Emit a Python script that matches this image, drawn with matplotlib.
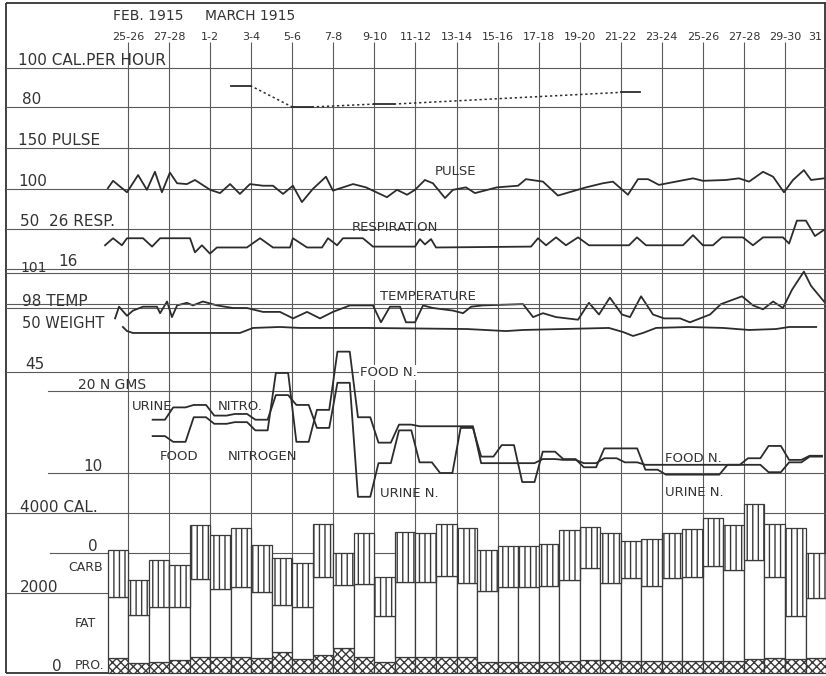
import matplotlib
matplotlib.use('Agg')
import matplotlib.pyplot as plt

plt.rcParams['font.family'] = ['DejaVu Sans']
plt.rcParams['hatch.linewidth'] = 1.0
plt.rcParams['hatch.color'] = '#444444'

# ---------------- data ----------------
date_labels = ['25-26', '27-28', '1-2', '3-4', '5-6', '7-8', '9-10', '11-12', '13-14',
               '15-16', '17-18', '19-20', '21-22', '23-24', '25-26', '27-28', '29-30', '31']
date_label_day = [1, 3, 5, 7, 9, 11, 13, 15, 17, 19, 21, 23, 25, 27, 29, 31, 33, 34.45]
grid_days = [1, 3, 5, 7, 9, 11, 13, 15, 17, 19, 21, 23, 25, 27, 29, 31, 33]

# calories per hour (measurement days, values)
calhr_day = [6, 9, 13, 25]
calhr_val = [91, 80, 81.5, 87.5]

pulse_day = [0.02, 0.27, 0.95, 1.49, 1.92, 2.31, 2.65, 3.04, 3.39, 3.87, 4.26, 5.0, 5.48, 5.97,
             6.45, 6.94, 7.57, 8.06, 8.55, 9.03, 9.47, 10.0, 10.64, 10.98, 11.96, 12.59, 13.61,
             14.1, 14.59, 14.98, 15.46, 15.85, 16.44, 16.83, 17.46, 17.9, 18.97, 20.0, 20.38,
             21.21, 21.94, 23.31, 24.13, 24.62, 25.35, 25.84, 26.33, 26.86, 27.69, 28.52, 29.0,
             30.12, 30.76, 31.25, 31.93, 32.42, 32.95, 33.39, 33.92, 34.27, 34.9]
pulse_val = [101, 110, 96, 117, 99, 121, 96, 120, 107, 106, 111, 99, 95, 106, 94, 106, 104, 104,
             94, 104, 84, 100, 115, 98, 106, 102, 90, 99, 93, 99, 111, 107, 89, 99, 102, 95, 102,
             104, 112, 109, 92, 102, 107, 109, 93, 112, 112, 105, 109, 113, 110, 111, 113, 109,
             121, 115, 96, 111, 123, 111, 113]

resp_day = [-0.12, 0.27, 0.7, 0.95, 1.73, 2.17, 2.56, 4.02, 4.26, 4.6, 4.99, 5.33, 6.79, 7.43,
            8.06, 8.89, 9.03, 9.72, 10.45, 10.74, 11.18, 11.47, 12.44, 12.93, 14.98, 15.22,
            15.46, 15.76, 16.0, 20.63, 20.97, 21.36, 21.85, 22.33, 22.92, 23.45, 25.4, 25.79,
            26.23, 28.03, 28.52, 29.0, 29.49, 29.93, 30.95, 31.44, 31.93, 32.9, 33.2, 33.58,
            34.02, 34.46, 34.9]
resp_val = [22.3, 23.9, 22.3, 23.9, 23.9, 22.0, 23.9, 23.9, 20.7, 22.3, 20.4, 21.8, 21.8, 23.9,
            21.8, 21.8, 23.9, 21.8, 21.8, 23.9, 22.3, 23.9, 23.9, 22.0, 22.0, 23.7, 22.5, 23.7,
            21.8, 22.0, 23.9, 22.3, 24.1, 22.3, 24.1, 22.3, 22.3, 24.1, 22.3, 22.3, 24.6, 22.3,
            22.3, 24.1, 24.1, 22.3, 24.1, 24.1, 22.7, 27.9, 27.9, 24.4, 25.8]

temp_day = [0.37, 0.56, 0.95, 1.24, 1.73, 2.41, 2.56, 2.9, 3.14, 3.39, 3.87, 4.16, 4.65, 5.33,
            6.11, 6.79, 7.57, 8.40, 9.04, 9.72, 10.35, 10.98, 11.81, 12.93, 13.32, 13.76, 14.25,
            14.54, 14.98, 15.37, 15.85, 16.83, 17.32, 17.71, 18.29, 20.24, 20.73, 21.21, 21.85,
            22.92, 23.45, 23.94, 24.47, 25.06, 25.45, 25.99, 26.57, 27.11, 27.89, 28.37, 29.35,
            29.88, 30.91, 31.44, 31.93, 32.42, 32.9, 33.34, 33.92, 34.27, 34.9]
temp_val = [97.2, 98.1, 97.4, 97.8, 98.1, 98.1, 97.6, 98.5, 97.3, 98.2,
            98.4, 98.2, 98.5, 98.2, 98.0, 98.0, 97.7, 97.7, 97.2, 97.7,
            97.2, 97.7, 98.2, 98.2, 96.9, 98.1, 98.1, 96.9, 96.9, 98.2,
            98.0, 97.8, 97.6, 98.1, 98.2, 98.3, 97.3, 97.6, 97.3, 97.1,
            98.4, 97.5, 98.8, 97.5, 97.3, 98.9, 97.5, 97.2, 97.2, 96.9,
            97.5, 98.3, 98.9, 98.2, 97.9, 98.5, 98.0, 99.4, 100.8, 99.7, 98.5]

weight_day = [0.75, 0.95, 1.24, 6.45, 7.09, 8.40, 9.37, 12.64, 17.51, 19.41, 20.24, 24.42,
              25.11, 25.60, 26.08, 26.72, 28.32, 29.98, 31.25, 32.56, 33.2, 34.52]
weight_val = [48.31, 48.01, 47.87, 47.87, 48.24, 48.31, 48.24, 48.24, 48.16, 48.01, 48.09,
              48.24, 47.94, 47.65, 47.87, 48.24, 48.31, 48.24, 48.09, 48.16, 48.31, 48.31]

n_day = list(range(2, 35))
food_n = [14.5, 13.8, 16.8, 16.0, 16.2, 15.2, 22.2, 13.8, 17.7, 24.8, 16.8, 13.7, 15.9, 15.7,
          15.7, 15.7, 11.2, 11.2, 11.2, 11.7, 11.6, 11.2, 11.8, 11.3, 11.0, 11.0, 11.0, 11.0,
          11.0, 11.8, 13.3, 11.6, 12.1]
urine_n = [16.5, 18.0, 18.3, 17.0, 17.2, 16.5, 19.5, 18.3, 15.5, 21.0, 7.1, 11.2, 15.2, 11.3,
           10.0, 15.5, 12.0, 13.4, 8.9, 12.6, 11.7, 10.7, 13.0, 13.0, 10.4, 9.8, 9.8, 9.8,
           11.0, 11.0, 10.1, 11.3, 12.0]

bar_day = list(range(35))
protein_cal = [375, 250, 275, 325, 400, 400, 400, 375, 525, 350, 450, 625, 400, 275, 400, 400,
               400, 400, 275, 275, 275, 275, 300, 325, 325, 300, 300, 300, 300, 300, 300, 350,
               375, 350, 375]
fat_cal = [1525, 1200, 1375, 1325, 1950, 1700, 1750, 1650, 1175, 1300, 1950, 1575, 1825, 1150,
           1875, 1875, 2025, 1850, 1775, 1875, 1875, 1900, 2025, 2300, 1925, 2075, 1875, 2075,
           2100, 2375, 2275, 2475, 2025, 1075, 1500]
carb_cal = [1175, 875, 1175, 1050, 1350, 1350, 1475, 1175, 1175, 1100, 1325, 800, 1275, 975,
            1250, 1225, 1300, 1375, 1025, 1025, 1025, 1050, 1250, 1025, 1250, 925, 1175, 1125,
            1200, 1200, 1125, 1400, 1325, 2200, 1125]

# ---------------- layout ----------------
W, H = 826, 676
X0, DAY = 107.5, 20.53
DAYLIM = (-X0 / DAY, (W - X0) / DAY)
INK = '#2c2c2c'
GRID = '#5a5a5a'
LW = 1.3

fig = plt.figure(figsize=(W / 100, H / 100), dpi=100)
fig.patch.set_facecolor('white')


def overlay(z, xlim, ylim):
    ax = fig.add_axes([0, 0, 1, 1], zorder=z)
    ax.set_xlim(*xlim)
    ax.set_ylim(*ylim)
    ax.set_axis_off()
    return ax


def scale(v_a, p_a, v_b, p_b):
    s = (v_b - v_a) / (p_b - p_a)
    return (v_a + (H - p_a) * s, v_a - p_a * s)


base = overlay(0, (0, W), (H, 0))
gridax = overlay(0, DAYLIM, (H, 0))
cal_ax = overlay(1, DAYLIM, scale(4000, 513, 0, 673))
calhr_ax = overlay(2, DAYLIM, scale(100, 68, 80, 107))
pulse_ax = overlay(2, DAYLIM, scale(150, 148, 100, 189))
resp_ax = overlay(2, DAYLIM, scale(26, 229, 16, 273))
temp_ax = overlay(2, DAYLIM, scale(101, 269, 98, 308))
weight_ax = overlay(2, DAYLIM, scale(50, 304, 45, 372))
n_ax = overlay(2, DAYLIM, scale(20, 391, 10, 473))
text_ax = overlay(3, (0, W), (H, 0))

# frame
fr = dict(color='#333333', lw=1.3, solid_capstyle='butt')
base.plot([6, W], [3, 3], **fr)
base.plot([6, 6], [3, 673], **fr)
base.plot([6, W], [673, 673], **fr)
base.plot([825, 825], [3, 673], **fr)

# vertical grid
gridax.vlines(grid_days, 42, 673, color=GRID, lw=0.8)

# horizontal grid lines belonging to each scale
gl = dict(color=GRID, lw=0.8, zorder=0)
full = 6 / W
for ax, levels, start in [(calhr_ax, [100, 80], full), (pulse_ax, [150, 100], full),
                          (resp_ax, [26, 16], full), (temp_ax, [101, 98], full),
                          (weight_ax, [50, 45], full), (n_ax, [20, 10], 48 / W),
                          (cal_ax, [4000, 2000], full), (cal_ax, [3000], 50 / W)]:
    for lv in levels:
        ax.axhline(lv, xmin=start, xmax=1, **gl)

# calories per hour: solid measurement segments joined by dotted lines
for i, (d, v) in enumerate(zip(calhr_day, calhr_val)):
    calhr_ax.plot([d, d + 0.95], [v, v], color=INK, lw=LW)
    if i + 1 < len(calhr_day):
        calhr_ax.plot([d + 0.95, calhr_day[i + 1]], [v, calhr_val[i + 1]], color=INK,
                      lw=1.1, linestyle=(0, (1.5, 1.8)))

pulse_ax.plot(pulse_day, pulse_val, color=INK, lw=LW)
resp_ax.plot(resp_day, resp_val, color=INK, lw=LW)
temp_ax.plot(temp_day, temp_val, color=INK, lw=LW)
weight_ax.plot(weight_day, weight_val, color=INK, lw=LW)


def plateau(days, vals):
    xs, ys = [], []
    for d, v in zip(days, vals):
        xs += [d + 0.2, d + 0.8]
        ys += [v, v]
    return xs, ys


for series in (food_n, urine_n):
    xs, ys = plateau(n_day, series)
    n_ax.plot(xs, ys, color=INK, lw=LW)

# stacked calorie bars
bk = dict(width=1.0, align='edge', edgecolor='#3a3a3a', linewidth=0.9, zorder=2,
          facecolor='white')
cal_ax.bar(bar_day, protein_cal, hatch='xxxx', **bk)
fat_bottom = protein_cal
cal_ax.bar(bar_day, fat_cal, bottom=fat_bottom, **bk)
carb_bottom = [p + f for p, f in zip(protein_cal, fat_cal)]
cal_ax.bar(bar_day, carb_cal, bottom=carb_bottom, hatch='|||', **bk)

# ---------------- text ----------------
tk = dict(color='#333333', va='baseline', ha='left')
text_ax.text(113, 20, 'FEB. 1915', fontsize=10, **tk)
text_ax.text(205, 20, 'MARCH 1915', fontsize=10, **tk)
for lab, d in zip(date_labels, date_label_day):
    text_ax.text(X0 + d * DAY, 40, lab, fontsize=8, color='#333333', ha='center',
                 va='baseline')

left_labels = [
    ('100 CAL.PER HOUR', 18, 65, 11), ('80', 22, 104, 11), ('150 PULSE', 18, 145, 11),
    ('100', 18, 186, 11), ('50  26 RESP.', 20, 226, 11), ('101', 20, 272, 10),
    ('16', 58, 266, 11), ('98 TEMP', 22, 306, 11), ('50 WEIGHT', 22, 328, 10.5),
    ('45', 25, 369, 11), ('20 N GMS', 78, 389, 10), ('10', 83, 471, 11),
    ('4000 CAL.', 20, 512, 11), ('0', 88, 551, 11), ('CARB', 68, 571, 9),
    ('2000', 20, 592, 11), ('FAT', 75, 627, 9), ('0', 52, 671, 11), ('PRO.', 75, 669, 9),
]
for s, x, y, fs in left_labels:
    text_ax.text(x, y, s, fontsize=fs, **tk)

inner_labels = [
    ('PULSE', 435, 175), ('RESPIRATION', 352, 231), ('TEMPERATURE', 380, 300),
    ('URINE', 132, 410), ('NITRO.', 218, 410), ('FOOD', 160, 460), ('NITROGEN', 228, 460),
    ('URINE N.', 380, 497), ('FOOD N.', 665, 462), ('URINE N.', 665, 496),
]
for s, x, y in inner_labels:
    text_ax.text(x, y, s, fontsize=9.5, **tk)
text_ax.text(360, 376, 'FOOD N.', fontsize=9.5,
             bbox=dict(facecolor='white', edgecolor='none', pad=0.5), **tk)

fig.savefig('out.png', dpi=100, facecolor='white')
